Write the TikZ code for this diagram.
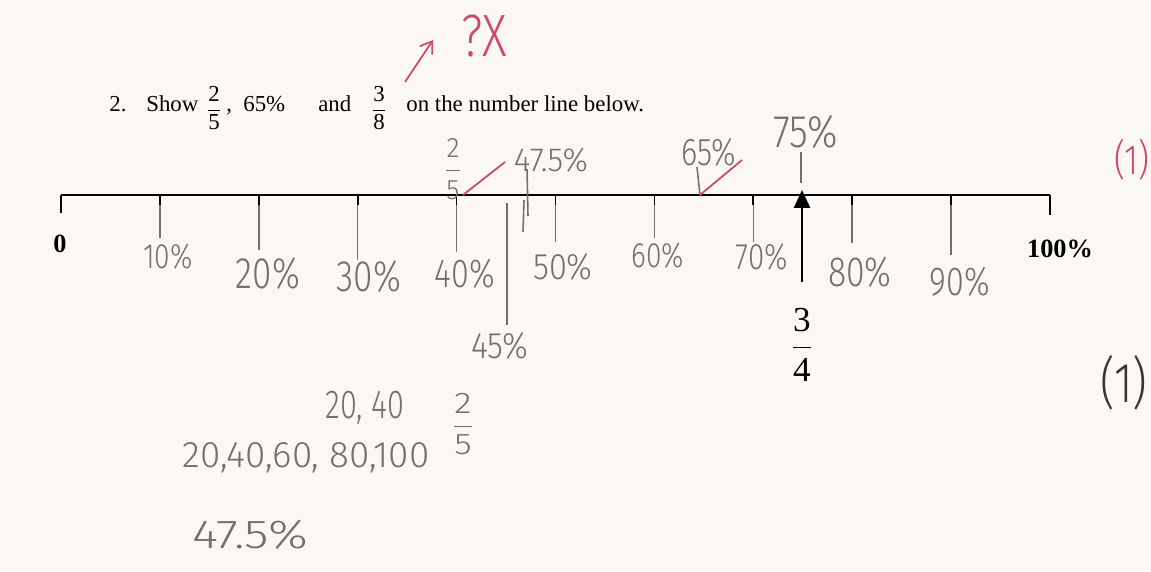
\documentclass[tikz,border=0pt]{standalone}
\usepackage{amsmath}
\usepackage{fontspec}
\setmainfont{Liberation Serif}
\newfontfamily\handfont{Fira Sans Light}
\usetikzlibrary{arrows.meta}
\definecolor{paper}{RGB}{251,248,244}
\definecolor{pencil}{RGB}{112,112,112}
\definecolor{pencilD}{RGB}{55,55,55}
\definecolor{marker}{RGB}{205,72,108}
\newcommand\penpt[1]{\fontsize{#1}{#1}\selectfont}
\tikzset{
  numline/.style={line width=1.2pt, black},
  prtick/.style={line width=1pt, black},
  pentick/.style={line width=0.9pt, pencil},
  redpen/.style={line width=1pt, marker},
  prt/.style={font=\fontsize{13}{15}\selectfont, inner sep=0pt},
  prtbold/.style={font=\bfseries\fontsize{15}{18}\selectfont, inner sep=0pt},
  hw/.style={font=\handfont, text=pencil, inner sep=0pt, xscale=0.8},
}

\begin{document}
\begin{tikzpicture}[x=0.02cm, y=-0.02cm]
  \fill[paper] (0,0) rectangle (1151,571);
  \useasboundingbox (0,0) rectangle (1151,571);
  % question
  \node[prt, anchor=base west] (q2) at (109,112) {2.};
  \node[prt, anchor=base west] (qshow) at (146,112) {Show};
  \node[prt] (qfa) at (214,108) {$\dfrac{\text{2}}{\text{5}}$};
  \node[prt, anchor=base west] (qcomma) at (226,112) {,};
  \node[prt, anchor=base west] (qpct) at (243,112) {65\%};
  \node[prt, anchor=base west] (qand) at (318,112) {and};
  \node[prt] (qfb) at (379,108) {$\dfrac{\text{3}}{\text{8}}$};
  \node[prt, anchor=base west] (qrest) at (406,112) {on the number line below.};
  % number line
  \foreach \i in {0,...,10}
    \coordinate (t\i) at ({61+98.9*\i},195);
  \foreach \i/\b in {1/238,2/250,3/260,4/252,5/242,6/238,7/242,8/243,9/255}
    \draw[pentick] (t\i) -- ++(0,{\b-195});
  \foreach \i in {1,...,9}
    \draw[prtick] (t\i) -- ++(0,10);
  \draw[numline] (t0) -- (t10);
  \draw[numline] (t0) -- ++(0,18);
  \draw[numline] (t10) -- ++(0,20);
  \node[prtbold] (zero) at (60,244) {0};
  \node[prtbold] (hundred) at (1060,249) {100\%};
  \foreach \i/\x/\y/\s in {1/168/257/20,2/268/274/25,3/369/277/25,4/465/274/23,
      6/658/256/20,7/762/257/21,8/860/272/24,9/960/282/23}
    \node[hw] (lab\i) at (\x,\y) {\penpt{\s}\i0\%};
  \node[hw, xscale=1.1] (lab5) at (563,267) {\penpt{21}50\%};
  % 45%
  \node[hw, xscale=1.1] (lab45) at (500,346) {\penpt{21}45\%};
  \coordinate (m45) at (507,203);
  \draw[pentick, line width=0.7pt] (m45) -- (m45 |- 0,325);
  % 47.5%
  \node[hw, xscale=1.2] (lab475) at (551,160) {\penpt{19}47.5\%};
  \coordinate (m475a) at (527,169);
  \coordinate (m475b) at (524,200);
  \draw[pentick] (m475a) -- ++(1,47);
  \draw[pentick] (m475b) -- ++(-1,32);
  % 2/5
  \node[hw, xscale=1.2] (hfrac) at (453,169) {\penpt{16}$\dfrac{\text{2}}{\text{5}}$};
  \coordinate (chkA) at (463,195);
  \draw[redpen] (chkA) -- (505,162);
  % 65%
  \node[hw, xscale=1] (lab65) at (709,152) {\penpt{22}65\%};
  \coordinate (chkB) at (700,195);
  \draw[pentick] (697,167) -- (chkB);
  \draw[redpen] (chkB) -- (742,160);
  % 75% and 3/4
  \node[hw, xscale=1.05] (lab75) at (806,132) {\penpt{26}75\%};
  \coordinate (tip) at (802,190);
  \draw[pentick] (801,152) -- (801,183);
  \node[font=\fontsize{20}{24}\selectfont, inner sep=0pt] (frac34) at (802,345) {$\dfrac{\text{3}}{\text{4}}$};
  \draw[line width=1.6pt, -{Triangle[length=0.36cm, width=0.32cm]}] (802,282) -- (tip);
  % red marks
  \coordinate (arrS) at (405,82);
  \draw[redpen, -{Straight Barb[length=0.22cm, width=0.3cm]}] (arrS) -- (433,40);
  \node[hw, text=marker, xscale=1] (qx) at (484,36) {\penpt{34}?X};
  \node[hw, text=marker] (mk1) at (1132,160) {\penpt{24}(1)};
  \node[hw, text=pencilD] (mk2) at (1124,383) {\penpt{32}(1)};
  % working
  \node[hw, xscale=0.95] (w1) at (365,408) {\penpt{23}20, 40};
  \node[hw, xscale=1.5] (w2) at (463,424) {\penpt{17}$\dfrac{\text{2}}{\text{5}}$};
  \node[hw, xscale=1.25] (w3) at (306,458) {\penpt{21}20,40,60, 80,100};
  \node[hw, xscale=1.55] (w4) at (250,535) {\penpt{23}47.5\%};
\end{tikzpicture}
\end{document}
